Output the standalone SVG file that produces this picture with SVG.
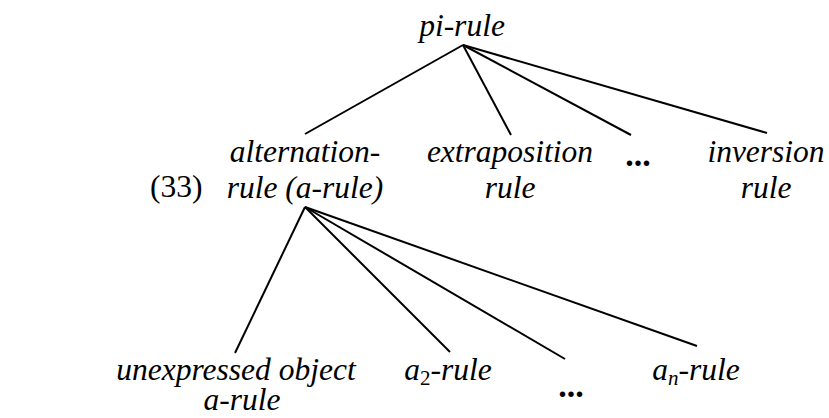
<svg xmlns="http://www.w3.org/2000/svg" width="829" height="418" viewBox="0 0 829 418">
<style>
text{font-family:"Liberation Serif","Times New Roman",serif;font-size:31.5px;fill:#000;}
.i{font-style:italic;}
.m{text-anchor:middle;}
.dots{font-weight:bold;font-size:34px;}
.sub{font-size:21px;}
line{stroke:#000;stroke-width:2;}
</style>
<rect width="829" height="418" fill="#fff"/>
<g id="connectors">
<line x1="463" y1="45" x2="305" y2="134"/>
<line x1="463" y1="45" x2="511" y2="135"/>
<line x1="463" y1="45" x2="631" y2="135"/>
<line x1="463" y1="45" x2="767" y2="133"/>
<line x1="305" y1="207" x2="235" y2="353"/>
<line x1="305" y1="207" x2="450" y2="352"/>
<line x1="305" y1="207" x2="565" y2="359"/>
<line x1="305" y1="207" x2="697" y2="346"/>
</g>
<g id="label33"><text x="150" y="197">(33)</text></g>
<g id="pi-rule"><text class="i m" x="462" y="36">pi-rule</text></g>
<g id="alternation-rule"><text class="i m" x="305" y="162">alternation-</text><text class="i m" x="305" y="198">rule (a-rule)</text></g>
<g id="extraposition-rule"><text class="i m" x="510" y="162">extraposition</text><text class="i m" x="510" y="198">rule</text></g>
<g id="dots1"><text class="dots m" x="638" y="166">...</text></g>
<g id="inversion-rule"><text class="i m" x="766" y="162">inversion</text><text class="i m" x="766" y="198">rule</text></g>
<g id="unexpressed"><text class="i m" x="236" y="380">unexpressed object</text><text class="i m" x="242" y="410">a-rule</text></g>
<g id="a2-rule"><text class="i m" x="448" y="380">a<tspan class="sub" dy="5" font-style="normal">2</tspan><tspan dy="-5">-rule</tspan></text></g>
<g id="dots2"><text class="dots m" x="571" y="397">...</text></g>
<g id="an-rule"><text class="i m" x="696" y="380">a<tspan class="sub" dy="5">n</tspan><tspan dy="-5">-rule</tspan></text></g>
</svg>
